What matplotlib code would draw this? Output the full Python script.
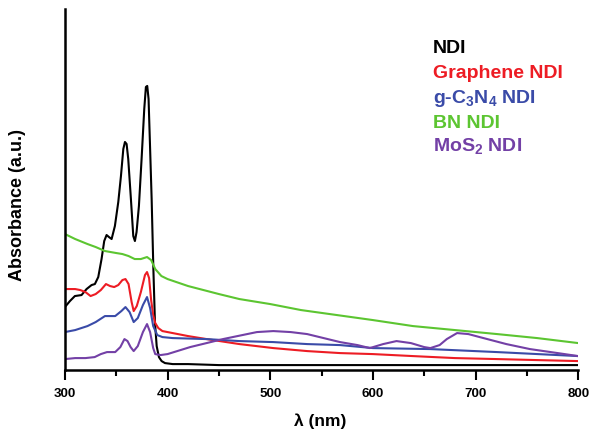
import matplotlib
matplotlib.use("Agg")
import matplotlib.pyplot as plt
from matplotlib.ticker import MultipleLocator

plt.rcParams["font.family"] = ["Liberation Sans", "DejaVu Sans"]
plt.rcParams["font.weight"] = "bold"
plt.rcParams["mathtext.fontset"] = "custom"
plt.rcParams["mathtext.rm"] = "Liberation Sans:bold"
plt.rcParams["mathtext.bf"] = "Liberation Sans:bold"
plt.rcParams["mathtext.default"] = "rm"

# UV-vis spectra, absorbance in arbitrary units
ndi_nm = [300, 304.9, 309.7, 316.2, 321.1, 326, 329.2, 332.5, 335.7, 338.3, 340.6, 342.9, 345.5,
          348.7, 352, 354.6, 356.9, 358.5, 360.1, 361.7, 364.3, 366.6, 368.2, 369.8, 372.1, 374.7,
          377.3, 378.9, 380.2, 381.5, 382.8, 384.5, 386.1, 387.7, 389.4, 391.6, 394.2, 397.5,
          405, 420, 450, 500, 600, 700, 800]
ndi_abs = [63, 69, 74, 75, 81, 85, 86, 93, 111, 129, 135, 133, 131,
           144, 168, 194, 221, 228, 226, 211, 171, 134, 129, 138, 164, 211,
           261, 283, 284, 271, 228, 171, 104, 48, 24, 13, 9, 7,
           6, 6, 5, 5, 5, 5, 5]

gr_nm = [300, 305, 310, 315, 320, 325, 330, 335, 340, 344, 348, 352, 356, 359, 362, 365, 367, 370,
         374, 378, 380, 382, 384, 386, 388, 391, 395, 405, 420, 438, 470, 503, 536, 568, 600, 639,
         680, 721, 760, 800]
gr_abs = [81, 81, 81, 80, 78, 74, 76, 80, 86, 84, 83, 85, 90, 91, 86, 68, 59, 64,
          78, 95, 98, 92, 70, 55, 47, 42, 39, 37, 34, 31, 26, 22, 19, 17, 16, 14,
          12, 11, 10, 9]

cn_nm = [300, 310, 322, 330, 339, 349, 355, 359, 363, 367, 371, 376, 380, 383, 386, 390, 395, 405,
         438, 470, 503, 536, 568, 600, 656, 721, 800]
cn_abs = [38, 40, 44, 48, 54, 54, 59, 63, 58, 48, 52, 65, 73, 62, 44, 35, 33, 32,
          31, 29, 28, 26, 25, 22, 21, 18, 14]

bn_nm = [300, 310, 322, 330, 339, 350, 356, 362, 368, 374, 380, 384, 388, 394, 400, 420, 450, 470,
         500, 530, 558, 600, 639, 680, 721, 760, 800]
bn_abs = [136, 131, 126, 123, 119, 117, 116, 114, 111, 111, 113, 110, 101, 94, 91, 84, 76, 71,
          66, 60, 56, 50, 44, 40, 36, 32, 27]

mo_nm = [300, 310, 320, 329, 335, 341, 349, 354, 358, 361, 364, 367, 371, 376, 380, 383, 386, 388,
         393, 400, 422, 454, 487, 503, 520, 536, 552, 568, 585, 597, 610, 623, 637, 650, 656, 665,
         672, 682, 693, 704, 730, 753, 780, 800]
mo_abs = [11, 12, 12, 13, 16, 18, 18, 23, 31, 29, 23, 19, 24, 38, 46, 38, 22, 16,
          15, 16, 23, 31, 38, 39, 38, 36, 32, 28, 25, 22, 26, 29, 27, 23, 22, 25,
          31, 37, 36, 33, 26, 21, 17, 14]

labels = ["NDI", "Graphene NDI", r"g-C$_3$N$_4$ NDI", "BN NDI", r"MoS$_2$ NDI"]
colors = ["#000000", "#ED1C24", "#3A4BA8", "#5CC531", "#7340A6"]

fig = plt.figure(figsize=(5.9, 4.31), dpi=100)
ax = fig.add_axes([0.110, 0.139, 0.870, 0.838])

series = [(ndi_nm, ndi_abs), (gr_nm, gr_abs), (cn_nm, cn_abs), (bn_nm, bn_abs), (mo_nm, mo_abs)]
for (x, y), c in zip(series, colors):
    ax.plot(x, y, color=c, lw=1.5, solid_joinstyle="round")

ax.set_xlim(300, 800)
ax.set_ylim(0, 361)
ax.spines["top"].set_visible(False)
ax.spines["right"].set_visible(False)
ax.spines["left"].set_linewidth(1.8)
ax.spines["bottom"].set_linewidth(1.8)
ax.set_yticks([])
ax.xaxis.set_major_locator(MultipleLocator(100))
ax.xaxis.set_minor_locator(MultipleLocator(50))
ax.tick_params(axis="x", which="major", length=7, width=1.5, labelsize=9.6, pad=5)
ax.tick_params(axis="x", which="minor", length=4, width=1.5)
for t in ax.get_xticklabels():
    t.set_fontweight("bold")

ax.set_xlabel("λ (nm)", fontsize=12.5, fontweight="bold", va="center")
ax.xaxis.set_label_coords(0.497, -0.138)
fig.text(18 / 590, 1 - 205 / 431, "Absorbance (a.u.)", rotation=90, fontsize=13,
         fontweight="bold", ha="center", va="center")

baselines = [53, 78, 103, 128, 151]
for lab, c, yp in zip(labels, colors, baselines):
    fig.text(433 / 590, 1 - yp / 431, lab, color=c, fontsize=14, fontweight="bold",
             ha="left", va="baseline")

fig.savefig("out.png", dpi=100)
